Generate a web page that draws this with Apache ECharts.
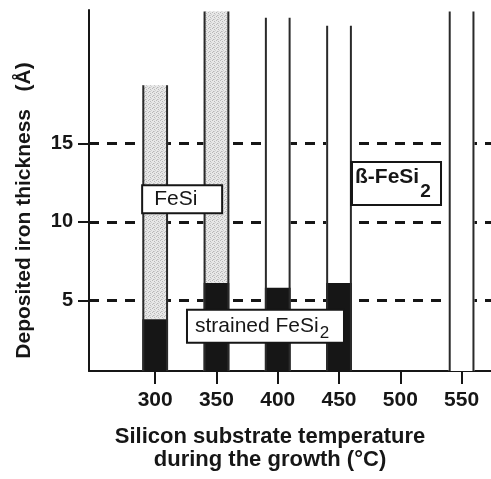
<!DOCTYPE html>
<html>
<head>
<meta charset="utf-8">
<script src="https://cdn.jsdelivr.net/npm/echarts@6/dist/echarts.min.js"></script>
<style>
  html, body { margin: 0; background: #fff; }
  #chart { width: 491px; height: 479px; }
</style>
</head>
<body>
<div id="chart"></div>
<script>
// growth temperature of each sample (°C)
const temperatures = [300, 350, 400, 450, 550]
// upper edge of each phase zone (Å)
const strainedTop = [3.8, 6.1, 5.8, 6.1, 0] // strained FeSi2, black
const feSiTop = [18.7, 23.4, 5.8, 6.1, 0] // FeSi, stippled
const barTop = [18.7, 23.4, 23.0, 22.5, 23.4] // top of deposited range

const xTicks = [300, 350, 400, 450, 500, 550]
const yTicks = [5, 10, 15]

const noteText = ['FeSi', 'strained FeSi', 'ß-FeSi']
const noteSub = ['', '2', '2']

const FONT = "'Liberation Sans', Arial, Helvetica, sans-serif"
const INK = '#161616'
const Y_MIN = 0.5
const BAR_W = 21 // in °C

// box layout of the annotations: anchor in data units, size/offsets in px
const notes = [
  { at: [322, 11.45], w: 80, h: 28, pad: 12, font: '21px', subFont: '', dy: 0, subDy: 0, thick: 0 },
  { at: [390, 3.35], w: 157, h: 33, pad: 8, font: '21px', subFont: '17px', dy: 0, subDy: 7.5, thick: 0 },
  { at: [496.5, 12.45], w: 90, h: 43, pad: 4, font: 'bold 21px', subFont: 'bold 19px', dy: -6.5, subDy: 8, thick: 3 }
]

// fine grey stipple for the FeSi zone
const stipple = document.createElement('canvas')
stipple.width = 4
stipple.height = 4
const sctx = stipple.getContext('2d')
sctx.fillStyle = '#e8e8e8'
sctx.fillRect(0, 0, 4, 4)
sctx.fillStyle = '#b8b8b8'
sctx.fillRect(0, 0, 1, 1)
sctx.fillRect(2, 1, 1, 1)
sctx.fillRect(1, 3, 1, 1)
sctx.fillStyle = '#d0d0d0'
sctx.fillRect(3, 2, 1, 1)
sctx.fillRect(2, 3, 1, 1)

const measure = document.createElement('canvas').getContext('2d')
function textWidth (text, font) {
  measure.font = font + ' ' + FONT
  return measure.measureText(text).width
}

function renderBar (params, api) {
  const x = api.value(0)
  const w = api.size([BAR_W, 0])[0]
  const base = api.coord([x, Y_MIN])
  const pS = api.coord([x, api.value(1)])
  const pF = api.coord([x, api.value(2)])
  const pT = api.coord([x, api.value(3)])
  const left = base[0] - w / 2
  const right = base[0] + w / 2
  const children = [
    { type: 'rect', shape: { x: left, y: pT[1], width: w, height: base[1] - pT[1] }, style: { fill: '#fff' } }
  ]
  if (api.value(2) > api.value(1)) {
    children.push({ type: 'rect', shape: { x: left, y: pF[1], width: w, height: pS[1] - pF[1] }, style: { fill: { image: stipple, repeat: 'repeat' } } })
  }
  if (api.value(1) > Y_MIN) {
    children.push({ type: 'rect', shape: { x: left, y: pS[1], width: w, height: base[1] - pS[1] }, style: { fill: INK } })
  }
  children.push({ type: 'line', shape: { x1: left + 1, y1: pT[1], x2: left + 1, y2: base[1] }, style: { stroke: '#2a2a2a', lineWidth: 2 } })
  children.push({ type: 'line', shape: { x1: right - 1, y1: pT[1], x2: right - 1, y2: base[1] }, style: { stroke: '#2a2a2a', lineWidth: 2 } })
  return { type: 'group', children: children }
}

function renderNote (params, api) {
  const n = notes[params.dataIndex]
  const c = api.coord(n.at)
  const x0 = c[0] - n.w / 2
  const y0 = c[1] - n.h / 2
  const main = noteText[params.dataIndex]
  const sub = noteSub[params.dataIndex]
  const children = [
    { type: 'rect', shape: { x: x0, y: y0, width: n.w, height: n.h }, style: { fill: '#fff', stroke: INK, lineWidth: 2 } }
  ]
  if (n.thick) {
    children.push({ type: 'rect', shape: { x: x0 - 1, y: y0 - 1, width: n.thick, height: n.h + 2 }, style: { fill: INK } })
  }
  children.push({
    type: 'text',
    style: { text: main, x: x0 + n.pad, y: c[1] + n.dy, font: n.font + ' ' + FONT, fill: INK, align: 'left', verticalAlign: 'middle' }
  })
  if (sub) {
    children.push({
      type: 'text',
      style: { text: sub, x: x0 + n.pad + textWidth(main, n.font) + 1, y: c[1] + n.subDy, font: n.subFont + ' ' + FONT, fill: INK, align: 'left', verticalAlign: 'middle' }
    })
  }
  return { type: 'group', children: children }
}

const chart = echarts.init(document.getElementById('chart'), null, { renderer: 'canvas' })

chart.setOption({
  backgroundColor: '#fff',
  animation: false,
  grid: { left: 89, right: 0, top: 10, bottom: 108, outerBoundsMode: 'none' },
  xAxis: {
    type: 'value',
    min: 246,
    max: 574,
    axisLine: { lineStyle: { color: INK, width: 2 } },
    axisTick: { show: true, length: 13, lineStyle: { color: INK, width: 2 }, customValues: xTicks },
    axisLabel: { customValues: xTicks, margin: 19, color: INK, fontFamily: FONT, fontSize: 21, fontWeight: 'bold' },
    splitLine: { show: false },
    name: 'Silicon substrate temperature\nduring the growth (°C)',
    nameLocation: 'middle',
    nameGap: 54,
    nameTextStyle: { color: INK, fontFamily: FONT, fontSize: 22, fontWeight: 'bold', lineHeight: 23, padding: [0, 40, 0, 0] }
  },
  yAxis: {
    type: 'value',
    min: Y_MIN,
    max: 23.5,
    axisLine: { show: true, lineStyle: { color: INK, width: 2 } },
    axisTick: { show: true, length: 11, lineStyle: { color: INK, width: 2 }, customValues: yTicks },
    axisLabel: { customValues: yTicks, margin: 16, color: INK, fontFamily: FONT, fontSize: 20, fontWeight: 'bold' },
    splitLine: { show: false },
    name: 'Deposited iron thickness   (Å)',
    nameLocation: 'middle',
    nameGap: 54,
    nameRotate: 90,
    nameTextStyle: { color: INK, fontFamily: FONT, fontSize: 21, fontWeight: 'bold', padding: [0, 40, 0, 0] }
  },
  series: [
    {
      // dashed reference levels behind the bars
      type: 'line',
      data: [],
      z: 1,
      silent: true,
      markLine: {
        z: 1,
        silent: true,
        symbol: ['none', 'none'],
        label: { show: false },
        lineStyle: { color: INK, type: [10, 8], width: 3 },
        data: yTicks.map(v => ({ yAxis: v }))
      }
    },
    {
      type: 'custom',
      z: 5,
      silent: true,
      renderItem: renderBar,
      encode: { x: 0, y: 3 },
      data: temperatures.map((t, i) => [t, strainedTop[i], feSiTop[i], barTop[i]])
    },
    {
      type: 'custom',
      z: 8,
      silent: true,
      renderItem: renderNote,
      data: noteText.map((t, i) => [i])
    }
  ]
})
</script>
</body>
</html>
